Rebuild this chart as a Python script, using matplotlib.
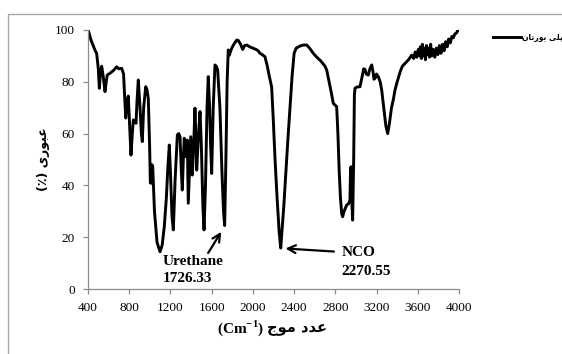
import matplotlib
matplotlib.use("Agg")
import matplotlib.pyplot as plt
from matplotlib.patches import Rectangle

plt.rcParams['font.family'] = ['Liberation Serif', 'DejaVu Sans']
plt.rcParams['mathtext.fontset'] = 'custom'
plt.rcParams['mathtext.rm'] = 'Liberation Serif:bold'
plt.rcParams['mathtext.bf'] = 'Liberation Serif:bold'

# FTIR spectrum of the polyurethane sample (wavenumber cm-1, transmittance %)
wavenumber = [
    405, 430, 450, 470, 484, 500, 510, 522, 533, 548, 565, 577, 587, 620, 650,
    678, 700, 727, 745, 766, 778, 791, 805, 817, 830, 840, 866, 875, 888, 905,
    918, 927, 940, 960, 972, 985, 998, 1005, 1011, 1020, 1028, 1045, 1070, 1099,
    1120, 1140, 1160, 1175, 1189, 1200, 1215, 1228, 1245, 1267, 1280, 1293, 1305,
    1315, 1325, 1334, 1351, 1364, 1373, 1385, 1397, 1412, 1425, 1438, 1446, 1455,
    1470, 1487, 1500, 1515, 1526, 1540, 1555, 1567, 1580, 1590, 1600, 1615, 1632,
    1645, 1658, 1680, 1700, 1715, 1726, 1738, 1750, 1761, 1771, 1794, 1815, 1843,
    1858, 1880, 1901, 1920, 1940, 1970, 2000, 2030, 2050, 2069, 2090, 2117, 2140,
    2160, 2182, 2198, 2215, 2235, 2255, 2270, 2300, 2340, 2380, 2400, 2420, 2457,
    2490, 2522, 2550, 2586, 2620, 2660, 2700, 2716, 2740, 2765, 2780, 2813, 2825,
    2838, 2850, 2862, 2871, 2885, 2910, 2930, 2942, 2947, 2952, 2958, 2968, 2978,
    2985, 2991, 3010, 3039, 3060, 3075, 3088, 3100, 3120, 3135, 3153, 3165, 3175,
    3185, 3200, 3217, 3235, 3250, 3270, 3290, 3308, 3325, 3345, 3362, 3379, 3400,
    3430, 3450, 3476, 3510, 3541, 3560, 3575, 3590, 3605, 3615, 3625, 3635, 3645,
    3655, 3665, 3675, 3685, 3695, 3705, 3715, 3725, 3735, 3750, 3765, 3780, 3795,
    3810, 3825, 3840, 3855, 3870, 3885, 3900, 3915, 3930, 3945, 3960, 3975, 3990,
]
transmittance = [
    99.5, 96, 94, 92, 91, 85, 77.5, 84, 86, 82, 76.2, 80, 82.6, 83.5, 84.5,
    85.8, 85, 85.2, 83, 66, 72, 74.5, 62, 51.7, 60, 65.3, 64, 72, 80.7, 70,
    60, 56.9, 70, 78.1, 77, 73.6, 55, 41, 40.8, 48, 47.2, 30, 18, 14.4,
    17, 24, 35, 47, 55.6, 45, 28, 22.8, 42, 59.5, 60, 58.8, 46,
    38.2, 50, 58.2, 51.1, 57.5, 33.1, 46, 58.8, 44, 55, 69.8, 60, 45.9,
    58, 68.5, 55, 32, 22.8, 40, 70, 82, 70, 55, 44.6, 70, 86.5,
    86, 84.6, 70, 45, 30, 24.5, 50, 80, 92.3, 90.3, 92.9, 94.5, 96.1,
    96, 94.5, 92.5, 94, 94.2, 93.5, 93, 92.5, 92, 91, 90.5, 89.7, 86,
    82, 78, 65.3, 50, 35, 22, 15.8, 32, 58, 82, 91, 93, 93.8,
    94.2, 94.2, 93, 91, 89.5, 88, 86, 84.6, 80, 75, 71.7, 70.4, 60,
    45, 35, 29, 27.9, 30, 32.4, 33, 34.4, 45, 47.2, 35, 26.6, 50,
    75, 77.5, 78, 78.1, 82, 85, 84.8, 83, 82.6, 85, 86.5, 84, 81,
    81.3, 83, 82, 80, 76.8, 70, 63, 60, 64, 70, 73, 76.8, 80,
    84, 86, 87.1, 88.5, 90.3, 89, 91.5, 89.5, 92.5, 90, 93.5, 89, 94.5,
    90, 93, 88.5, 94, 90.5, 93, 89.5, 94.5, 90, 92.5, 89.5, 93, 90.5,
    94, 91, 94.5, 92, 95.5, 93.5, 96.5, 95, 97.5, 97, 98.5, 98.8, 100,
]

x_ticks = [400, 800, 1200, 1600, 2000, 2400, 2800, 3200, 3600, 4000]
y_ticks = [0, 20, 40, 60, 80, 100]

# Arabic script written in presentation forms, visual order
series_name = "\uFEE5\uFE8E\uFE97\uFEAD\uFEEE\uFBFE \uFBFD\uFEE0\uFB58"   # پلی یورتان
y_title = "(\u066A) \uFBFC\uFEAD\uFEEE\uFE92\uFECB"                       # عبوری (٪)
x_title_fa = "\uFE9D\uFEEE\uFEE3 \uFEA9\uFEAA\uFECB"                     # عدد موج
x_title_unit = "(Cm$^{-1}$)"

W, H = 562, 354
fig = plt.figure(figsize=(W / 100, H / 100), dpi=100)
ax = fig.add_axes([88 / W, 1 - 289 / H, (459 - 88) / W, (289 - 30) / H])

line, = ax.plot(wavenumber, transmittance, color='black', lw=2.1,
                solid_joinstyle='round', label=series_name)

ax.set_xlim(400, 4000)
ax.set_ylim(0, 100)
ax.set_xticks(x_ticks)
ax.set_yticks(y_ticks)
for s in ['top', 'right']:
    ax.spines[s].set_visible(False)
for s in ['left', 'bottom']:
    ax.spines[s].set_color('#8c8c8c')
    ax.spines[s].set_linewidth(0.9)
ax.tick_params(axis='both', colors='#8c8c8c', labelcolor='black',
               labelsize=9.5, length=3.5, width=0.9)
ax.tick_params(axis='x', pad=6)
ax.tick_params(axis='y', pad=6)

# peak annotations
bold = dict(fontsize=11, fontweight='bold', color='black')
ax.annotate('', xy=(1707, 23), xytext=(1552, 13),
            arrowprops=dict(arrowstyle='->', lw=1.6, color='black',
                            mutation_scale=14))
ax.text(1128, 10.6, 'Urethane', ha='left', va='center', **bold)
ax.text(1128, 4.2, '1726.33', ha='left', va='center', clip_on=False, **bold)

ax.annotate('', xy=(2289, 15.7), xytext=(2813, 14.4),
            arrowprops=dict(arrowstyle='->', lw=1.6, color='black',
                            mutation_scale=14))
ax.text(2861, 13.9, 'NCO', ha='left', va='center', **bold)
ax.text(2861, 6.9, '2270.55', ha='left', va='center', **bold)

# axis titles
ax.text(-0.119, 0.5, y_title, transform=ax.transAxes, rotation=90,
        ha='center', va='center', fontsize=9, fontweight='bold',
        family=['DejaVu Sans'])
fig.text(264 / W, 1 - 328 / H, x_title_unit, ha='right', va='center',
         fontsize=11, fontweight='bold')
fig.text(267 / W, 1 - 329 / H, x_title_fa, ha='left', va='center',
         fontsize=10.5, fontweight='bold', family=['DejaVu Sans'])

ax.legend(handles=[line], loc='center left',
          bbox_to_anchor=(493 / W, 1 - 37 / H), bbox_transform=fig.transFigure,
          frameon=False, borderpad=0, borderaxespad=0, handlelength=3.6,
          handletextpad=0.2, prop=dict(family='DejaVu Sans', size=5.5,
                                       weight='bold'))

# chart area border
fig.add_artist(Rectangle((8 / W, -0.5), 2, 0.5 + 1 - 14 / H,
                         transform=fig.transFigure, fill=False,
                         edgecolor='#a6a6a6', lw=1))

fig.savefig('out.png', dpi=100)
